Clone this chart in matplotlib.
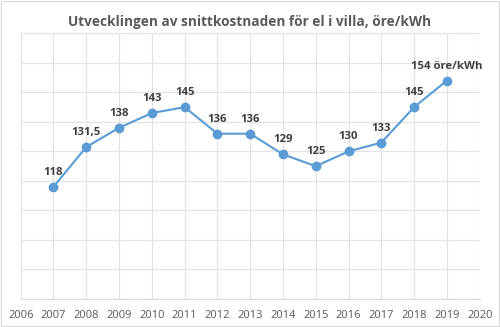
import numpy as np
import matplotlib.pyplot as plt
from matplotlib.patches import Rectangle

years = [2007, 2008, 2009, 2010, 2011, 2012, 2013, 2014, 2015, 2016, 2017, 2018, 2019]
cost = [118, 131.5, 138, 143, 145, 136, 136, 129, 125, 130, 133, 145, 154]
xticks = list(range(2006, 2021))
title = 'Utvecklingen av snittkostnaden för el i villa, öre/kWh'


def label_for(v, last):
    s = ('%g' % v).replace('.', ',')
    if last:
        s += ' öre/kWh'
    return s


plt.rcParams['font.family'] = ['Open Sans', 'DejaVu Sans']

fig = plt.figure(figsize=(5, 3.27), dpi=100)
ax = fig.add_axes([0.0414, 0.0856, 0.918, 0.8124])

# ramen runt diagrammet
fig.patches.append(Rectangle((0.002, 0.003), 0.996, 0.994, transform=fig.transFigure,
                             fill=False, edgecolor='#d9d9d9', linewidth=0.8))

ax.plot(years, cost, color='#5b9bd5', linewidth=1.5, marker='o', markersize=6,
        zorder=3)

for i, (x, y) in enumerate(zip(years, cost)):
    ax.annotate(label_for(y, i == len(cost) - 1), (x, y), xytext=(0, 6.5),
                textcoords='offset points', ha='center', va='bottom',
                fontsize=8.2, fontweight='bold', color='#404040')

ax.set_xlim(2006, 2020)
ax.set_ylim(80, 170)
ax.set_xticks(xticks)
ax.set_yticks(np.arange(80, 171, 10))
ax.set_yticklabels([])
ax.tick_params(axis='both', length=0, colors='#595959', labelsize=8, pad=8)
ax.grid(True, color='#e3e3e3', linewidth=0.9)
for s in ax.spines.values():
    s.set_visible(False)
ax.spines['bottom'].set_visible(True)
ax.spines['bottom'].set_color('#d9d9d9')

fig.suptitle(title, y=0.955, fontsize=9.8, fontweight='bold', color='#595959')

fig.savefig('out.png', dpi=100)
